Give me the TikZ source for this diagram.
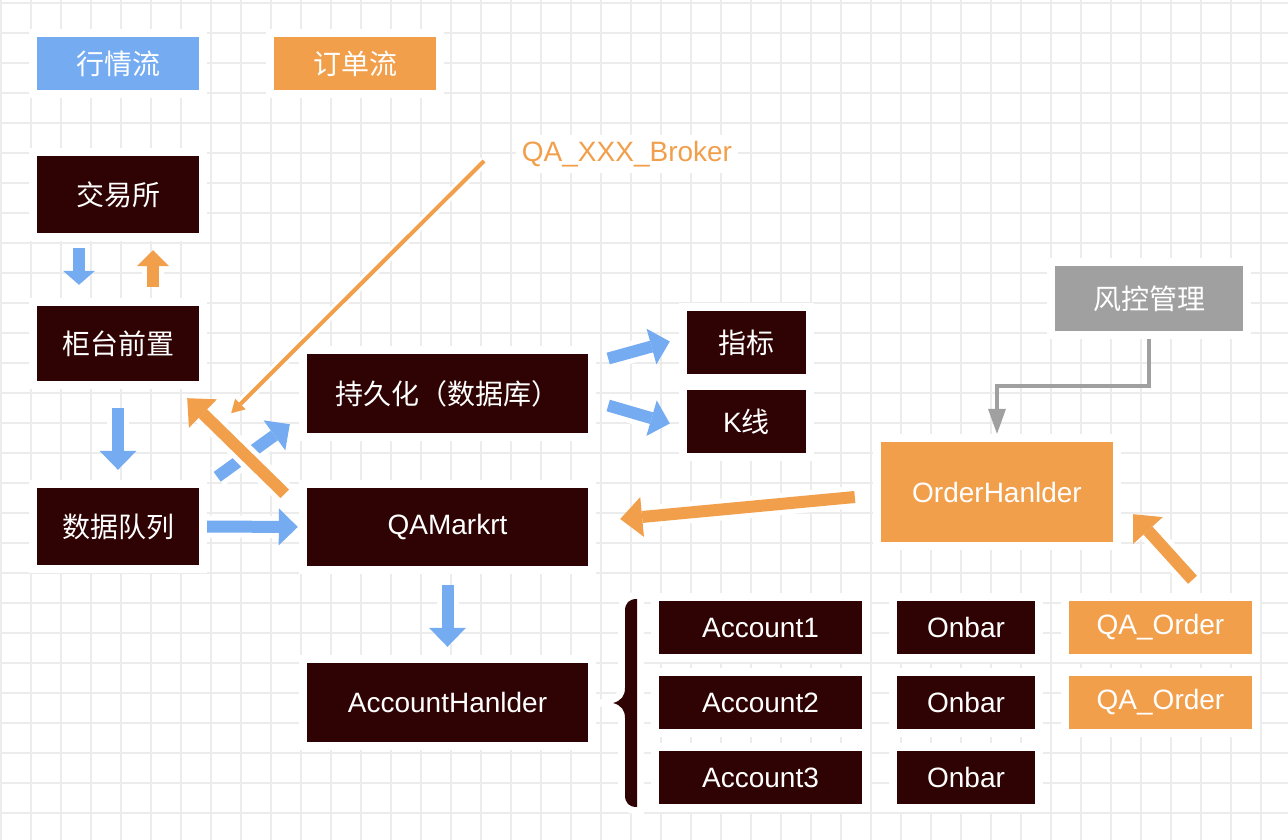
\documentclass[tikz,border=0pt]{standalone}
\usepackage{fontspec}
\setmainfont{Liberation Sans}
\newfontfamily\cjk{Noto Sans CJK SC}
\usetikzlibrary{arrows.meta}

\definecolor{darkbox}{RGB}{47,3,3}
\definecolor{flowblue}{RGB}{116,171,241}
\definecolor{floworange}{RGB}{242,159,76}
\definecolor{riskgray}{RGB}{160,160,160}
\definecolor{gridgray}{RGB}{236,236,236}

\begin{document}
\begin{tikzpicture}[x = 1pt, y = -1pt,
	font = \fontsize{28}{33}\selectfont,
	halo/.style = {preaction = {draw = white, line width = #1}},
	halo/.default = 22pt,
	box/.style = {fill = #1, text = white, inner sep = 0pt,
		preaction = {fill = white, draw = white, line width = 16pt}},
	box/.default = darkbox,
	blue arrow/.style = {flowblue, line width = 12pt, halo,
		-{Triangle[length = 19pt, width = 37pt, line width = 0pt 0]}},
	orange arrow/.style = {floworange, line width = 12pt, halo,
		-{Triangle[length = 22pt, width = 40pt, line width = 0pt 0]}}]

	% Background grid

	\useasboundingbox (0, 0) rectangle (1288, 840);
	\fill [white] (0, 0) rectangle (1288, 840);
	\foreach \gx in {1, 31, ..., 1288}
		\draw [gridgray, line width = 1.6pt] (\gx, 0) -- (\gx, 840);
	\foreach \gy in {3, 33, ..., 840}
		\draw [gridgray, line width = 1.6pt] (0, \gy) -- (1288, \gy);

	% Legend

	\node [box = flowblue, minimum width = 162pt, minimum height = 53pt] (quoteflow) at (118, 63.5) {\cjk 行情流};
	\node [box = floworange, minimum width = 162pt, minimum height = 53pt] (orderflow) at (355, 63.5) {\cjk 订单流};

	% Left column

	\node [box, minimum width = 162pt, minimum height = 77pt] (exchange) at (118, 194.5) {\cjk 交易所};
	\node [box, minimum width = 162pt, minimum height = 75pt] (frontend) at (118, 343.5) {\cjk 柜台前置};
	\node [box, minimum width = 162pt, minimum height = 77pt] (dataqueue) at (118, 526.5) {\cjk 数据队列};

	% Middle column

	\node [box, minimum width = 281pt, minimum height = 79pt] (storage) at (447.5, 393.5) {\cjk 持久化（数据库）};
	\node [box, minimum width = 281pt, minimum height = 78pt] (market) at (447.5, 527) {QAMarkrt};
	\node [box, minimum width = 281pt, minimum height = 79pt] (accounthandler) at (447.5, 702.5) {AccountHanlder};
	\node [box, minimum width = 119pt, minimum height = 63pt] (indicator) at (746.5, 342.5) {\cjk 指标};
	\node [box, minimum width = 119pt, minimum height = 63pt] (kline) at (746.5, 421.5) {K{\cjk 线}};

	% Orders and risk

	\node [box = riskgray, minimum width = 188pt, minimum height = 65pt] (risk) at (1149, 298.5) {\cjk 风控管理};
	\node [box = floworange, minimum width = 232pt, minimum height = 100pt] (orderhandler) at (997, 492) {OrderHanlder};
	\node [fill = white, text = floworange, inner sep = 6pt] (broker) at (627, 154) {QA\_XXX\_Broker};

	% Accounts

	\foreach \i/\ay in {1/627.5, 2/702.5, 3/777.5} {
		\node [box, minimum width = 203pt, minimum height = 53pt] (account\i) at (760.5, \ay) {Account\i};
		\node [box, minimum width = 138pt, minimum height = 53pt] (onbar\i) at (966, \ay) {Onbar};
	}
	\foreach \i/\ay in {1/627.5, 2/702.5}
		\node [box = floworange, minimum width = 183pt, minimum height = 53pt] (qaorder\i) at (1160.5, \ay) {QA\_Order};

	\fill [darkbox, preaction = {draw = white, line width = 14pt}] (637, 599) -- (637, 807)
		.. controls (629, 807) and (625, 803) .. (625, 795) -- (625, 718)
		.. controls (625, 710) and (621, 705) .. (613, 703)
		.. controls (621, 701) and (625, 696) .. (625, 688) -- (625, 611)
		.. controls (625, 603) and (629, 599) .. (637, 599) -- cycle;

	% Market data flow

	\draw [blue arrow, -{Triangle[length = 14pt, width = 32pt, line width = 0pt 0]}, shorten <= 15pt, shorten >= 21pt] ([xshift = -39pt] exchange.south) -- ([xshift = -39pt] frontend.north);
	\draw [blue arrow, shorten <= 27pt, shorten >= 18pt] (frontend.south) -- (dataqueue.north);
	\draw [blue arrow, shorten <= 8pt, shorten >= 9pt] (dataqueue.east) -- (market.west);
	\draw [blue arrow] ([xshift = 18pt, yshift = 11pt] dataqueue.north east) -- ([xshift = -17pt, yshift = 9pt] storage.south west);
	\draw [blue arrow] ([xshift = 20pt, yshift = 35pt] storage.east) -- ([xshift = -17pt, yshift = 1pt] indicator.west);
	\draw [blue arrow] ([xshift = 20pt, yshift = -12pt] storage.east) -- ([xshift = -17pt, yshift = -2pt] kline.west);
	\draw [blue arrow, shorten <= 19pt, shorten >= 16pt] (market.south) -- (accounthandler.north);

	% Order flow

	\draw [orange arrow, -{Triangle[length = 16pt, width = 32pt, line width = 0pt 0]}, shorten <= 19pt, shorten >= 17pt] ([xshift = 35pt] frontend.north) -- ([xshift = 35pt] exchange.south);
	\draw [orange arrow] ([xshift = -22pt, yshift = -6pt] market.north west) -- ([xshift = -12pt, yshift = -17pt] frontend.south east);
	\draw [orange arrow] ([xshift = -26pt, yshift = -5pt] orderhandler.west) -- ([xshift = 32pt, yshift = 8pt] market.east);
	\draw [orange arrow] ([xshift = 32pt, yshift = 21pt] qaorder1.north) -- ([xshift = 20pt, yshift = 28pt] orderhandler.south east);
	\draw [floworange, line width = 4pt, halo = 10pt, -{Triangle[length = 13pt, width = 15pt, line width = 0pt 0]}] ([xshift = -143pt, yshift = -7pt] broker.center) -- ([xshift = 32pt, yshift = -32pt] frontend.south east);

	% Risk control

	\draw [riskgray, line width = 4pt, -{Triangle[length = 25pt, width = 18pt, line width = 0pt 0]}, shorten <= 8pt, shorten >= 8pt] (risk.south) -- ++(0, 55) -| (orderhandler.north);

\end{tikzpicture}
\end{document}
